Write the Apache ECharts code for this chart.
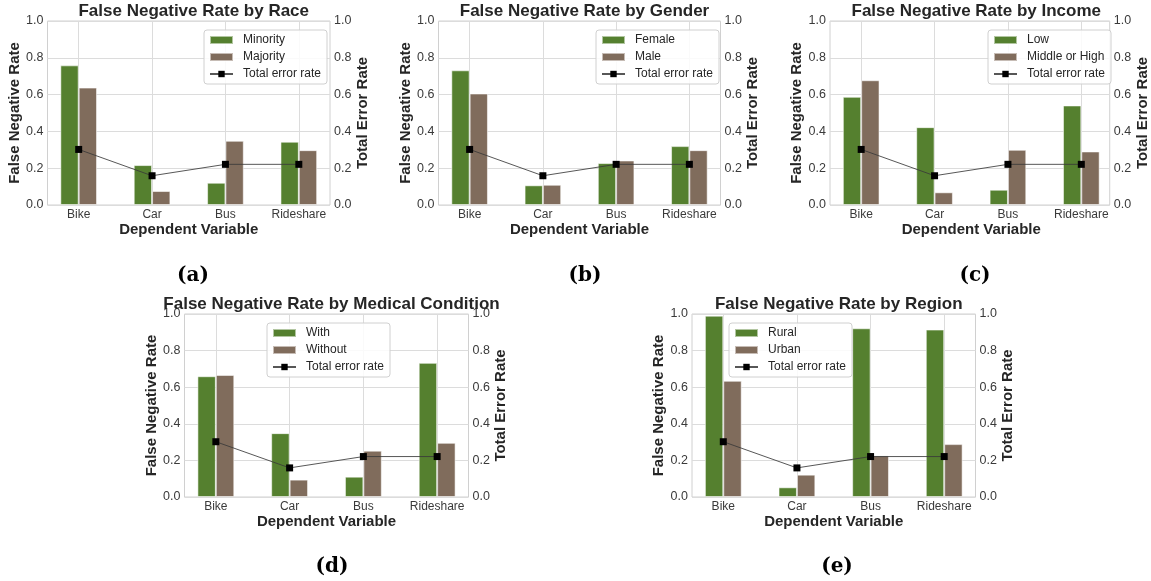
<!DOCTYPE html>
<html>
<head>
<meta charset="utf-8">
<script src="https://cdn.jsdelivr.net/npm/echarts@6/dist/echarts.min.js"></script>
<style>
  html, body { margin: 0; padding: 0; background: #fff; }
  #chart { width: 1151px; height: 581px; }
</style>
</head>
<body>
<div id="chart"></div>
<script>
// categories and values
const categories = ['Bike', 'Car', 'Bus', 'Rideshare'];
const totalErrorRate = [0.302, 0.159, 0.221, 0.221];

const raceMinority = [0.759, 0.217, 0.121, 0.344];
const raceMajority = [0.638, 0.076, 0.349, 0.298];
const genderFemale = [0.732, 0.107, 0.228, 0.320];
const genderMale = [0.606, 0.110, 0.242, 0.298];
const incomeLow = [0.588, 0.423, 0.083, 0.541];
const incomeMidHigh = [0.678, 0.069, 0.300, 0.291];
const medicalWith = [0.660, 0.349, 0.111, 0.733];
const medicalWithout = [0.667, 0.095, 0.253, 0.296];
const regionRural = [0.991, 0.053, 0.922, 0.915];
const regionUrban = [0.635, 0.122, 0.227, 0.289];

const panels = [
  { title: 'False Negative Rate by Race', tag: '(a)', names: ['Minority', 'Majority'], values: [raceMinority, raceMajority] },
  { title: 'False Negative Rate by Gender', tag: '(b)', names: ['Female', 'Male'], values: [genderFemale, genderMale] },
  { title: 'False Negative Rate by Income', tag: '(c)', names: ['Low', 'Middle or High'], values: [incomeLow, incomeMidHigh] },
  { title: 'False Negative Rate by Medical Condition', tag: '(d)', names: ['With', 'Without'], values: [medicalWith, medicalWithout] },
  { title: 'False Negative Rate by Region', tag: '(e)', names: ['Rural', 'Urban'], values: [regionRural, regionUrban] }
];

// positions of each panel (pixels)
const layout = [
  { left: 47.5, top: 21, width: 282.5, height: 184, legend: [204, 30], tag: [188, 261] },
  { left: 438.5, top: 21, width: 282, height: 184, legend: [596, 30], tag: [580, 261] },
  { left: 830, top: 21, width: 282.5, height: 184, legend: [988, 30], tag: [970, 261] },
  { left: 184.5, top: 314, width: 284, height: 183, legend: [267, 323], tag: [327, 552] },
  { left: 692, top: 314, width: 283.5, height: 183, legend: [729, 323], tag: [832, 552] }
];

const SANS = 'Liberation Sans';
const green = '#55802f';
const brown = '#806c5c';
const gridColor = '#dcdcdc';
const textDark = '#262626';
const tickColor = '#3a3a3a';

const option = {
  animation: false,
  backgroundColor: '#fff',
  title: [],
  legend: [],
  grid: [],
  xAxis: [],
  yAxis: [],
  series: []
};

panels.forEach((p, i) => {
  const L = layout[i];
  const u = L.width / 3.85; // pixels per category unit
  const gF = i * 2, gD = i * 2 + 1;

  option.title.push({
    text: p.title,
    left: L.left + L.width / 2,
    top: L.top - 23,
    textAlign: 'center',
    textStyle: { fontFamily: SANS, fontWeight: 'bold', fontSize: 17, color: textDark }
  });
  option.title.push({
    text: p.tag,
    left: L.tag[0],
    top: L.tag[1],
    textAlign: 'center',
    textStyle: { fontFamily: 'DejaVu Serif', fontWeight: 'bold', fontSize: 20, color: '#000' }
  });

  // frame grid and data grid
  option.grid.push({
    left: L.left, top: L.top, width: L.width, height: L.height,
    show: true, borderColor: '#d0d0d0', borderWidth: 1
  });
  option.grid.push({
    left: L.left + 0.425 * u, top: L.top, width: 3 * u, height: L.height
  });

  option.xAxis.push({ gridIndex: gF, type: 'value', min: 0, max: 1, show: false });
  option.xAxis.push({
    gridIndex: gD, type: 'value', min: 0, max: 3, interval: 1,
    axisLine: { show: false }, axisTick: { show: false },
    axisLabel: {
      formatter: v => categories[Math.round(v)],
      margin: 4, fontSize: 12, fontFamily: SANS, color: tickColor,
      showMinLabel: true, showMaxLabel: true
    },
    splitLine: { show: true, lineStyle: { color: gridColor, width: 1 } },
    name: 'Dependent Variable', nameLocation: 'middle', nameGap: 16,
    nameTextStyle: { fontFamily: SANS, fontWeight: 'bold', fontSize: 15, color: textDark }
  });

  const yBase = {
    type: 'value', min: 0, max: 1, interval: 0.2,
    axisLine: { show: false }, axisTick: { show: false },
    axisLabel: { formatter: v => v.toFixed(1), margin: 4, fontSize: 12.5, fontFamily: SANS, color: tickColor },
    nameLocation: 'middle',
    nameTextStyle: { fontFamily: SANS, fontWeight: 'bold', fontSize: 15, color: textDark }
  };
  option.yAxis.push(Object.assign({}, yBase, {
    gridIndex: gF, position: 'left',
    name: 'False Negative Rate', nameGap: 22,
    splitLine: { show: true, lineStyle: { color: gridColor, width: 1 } }
  }));
  option.yAxis.push(Object.assign({}, yBase, {
    gridIndex: gF, position: 'right',
    name: 'Total Error Rate', nameGap: 20,
    splitLine: { show: false }
  }));
  option.yAxis.push({ gridIndex: gD, type: 'value', min: 0, max: 1, show: false });

  const xIdx = gD, yIdx = i * 3 + 2;
  [green, brown].forEach((c, k) => {
    option.series.push({
      type: 'bar', name: p.names[k], xAxisIndex: xIdx, yAxisIndex: yIdx,
      data: categories.map((_, j) => [j, p.values[k][j]]),
      barWidth: 0.25 * u, barGap: '0%', clip: false,
      itemStyle: { color: c, borderColor: 'rgba(255,255,255,0.55)', borderWidth: 1 },
      z: 2
    });
  });
  option.series.push({
    type: 'line', name: 'Total error rate', xAxisIndex: xIdx, yAxisIndex: yIdx,
    data: categories.map((_, j) => [j, totalErrorRate[j]]),
    symbol: 'rect', symbolSize: 7, clip: false,
    lineStyle: { color: '#3a3a3a', width: 1, opacity: 0.85 },
    itemStyle: { color: '#000' },
    z: 4
  });

  option.legend.push({
    left: L.legend[0], top: L.legend[1], orient: 'vertical',
    data: [
      { name: p.names[0], icon: 'rect' },
      { name: p.names[1], icon: 'rect' },
      { name: 'Total error rate' }
    ],
    itemWidth: 23, itemHeight: 8, itemGap: 3,
    padding: [3, 6, 3, 5],
    backgroundColor: 'rgba(255,255,255,0.85)',
    borderColor: '#d0d0d0', borderWidth: 1, borderRadius: 3,
    selectedMode: false,
    textStyle: { fontFamily: SANS, fontSize: 12, color: textDark, lineHeight: 14, padding: [0, 0, 0, 5] }
  });
});

const chart = echarts.init(document.getElementById('chart'), null, { renderer: 'canvas' });
chart.setOption(option);
</script>
</body>
</html>
